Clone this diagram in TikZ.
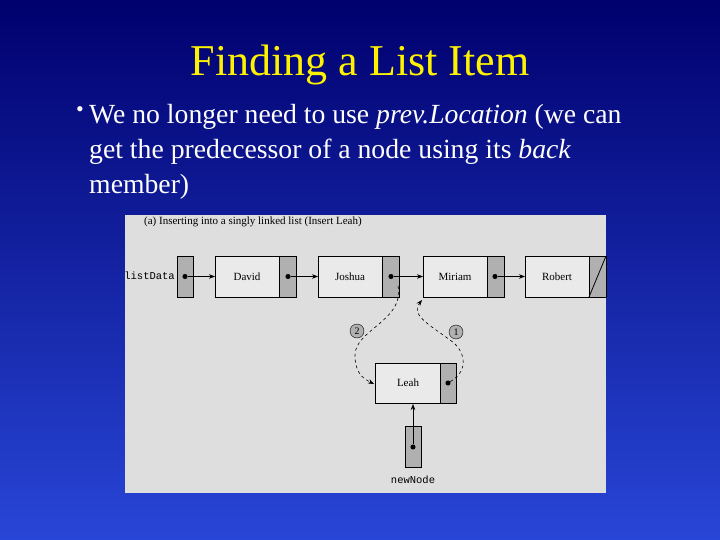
\documentclass[tikz,border=0pt]{standalone}
\usepackage{fontspec}
\setmainfont{Liberation Serif}
\setmonofont{Liberation Mono}
\usetikzlibrary{arrows.meta}
\definecolor{panel}{HTML}{DEDEDE}
\definecolor{ptrgray}{HTML}{B0B0B0}
\definecolor{cellgray}{HTML}{EAEAEA}
\tikzset{cell/.style = {draw, fill=cellgray, thick},
         ptr/.style = {draw, fill=ptrgray, thick},
         lnk/.style = {-{Stealth[length=6pt]}, semithick},
         dot/.style = {circle, fill, inner sep=1.8pt},
         step1/.style = {circle, draw, fill=ptrgray, minimum size=14pt, inner sep=0pt, font=\fontsize{10}{10}\selectfont}
        }
\begin{document}
\begin{tikzpicture}[x=1pt,y=-1pt]
  \shade[top color={rgb,255:red,0;green,0;blue,110}, bottom color={rgb,255:red,40;green,70;blue,215}] (0,0) rectangle (720,540);
  \useasboundingbox (0,0) rectangle (720,540);
  % title and bullet
  \node[text=yellow, font=\fontsize{44}{44}\selectfont] (title) at (360,65) {Finding a List Item};
  \node[text=white, font=\fontsize{22}{22}\selectfont] (bul) at (80,112) {\textbullet};
  \node[text=white, anchor=north west, inner sep=0pt, align=left, font=\fontsize{27.7}{35}\selectfont] (txt) at (89,104)
    {We no longer need to use \textit{prev.Location} (we can\\get the predecessor of a node using its \textit{back}\\member)};
  % panel
  \fill[panel] (125,215) rectangle (606,493);
  \node[anchor=west, font=\fontsize{11}{11}\selectfont, inner sep=0pt] (cap) at (144,222) {(a) Inserting into a singly linked list (Insert Leah)};
  % list
  \node[anchor=east, font=\ttfamily\fontsize{10.5}{10.5}\selectfont, inner sep=1pt] (head) at (176,276) {listData};
  \draw[ptr] (177,256) rectangle (193,297);
  \foreach \n/\x/\name in {david/215/David, joshua/318/Joshua, miriam/423/Miriam, robert/525/Robert} {
    \draw[cell] (\x,256) rectangle ++(64,41);
    \draw[ptr] (\x+64,256) rectangle ++(17,41);
    \node[font=\fontsize{11}{11}\selectfont] (\n) at (\x+32,276.5) {\name};
    \coordinate (\n L) at (\x,276.5);
  }
  \draw[thick] (589,297) -- (606,256);
  \node[dot] (d0) at (185,276.5) {};
  \node[dot] (d1) at (288,276.5) {};
  \node[dot] (d2) at (391,276.5) {};
  \node[dot] (d3) at (495,276.5) {};
  \draw[lnk] (d0) -- (davidL);
  \draw[lnk] (d1) -- (joshuaL);
  \draw[lnk] (d2) -- (miriamL);
  \draw[lnk] (d3) -- (robertL);
  % new node
  \draw[cell] (375,363) rectangle (440,403);
  \draw[ptr] (440,363) rectangle (456,403);
  \node[font=\fontsize{11}{11}\selectfont] (leah) at (408,383) {Leah};
  \node[dot] (d4) at (448,383) {};
  \draw[ptr] (405,426) rectangle (421,467);
  \node[dot] (d5) at (413,447) {};
  \node[font=\ttfamily\fontsize{10.5}{10.5}\selectfont] (nn) at (413,480) {newNode};
  \coordinate (leahB) at (413,404);
  \coordinate (leahL) at (374,384);
  \coordinate (miriamB) at (422,300);
  \coordinate (joshuaB) at (398,286);
  \draw[lnk] (d5) -- (leahB);
  % steps
  \draw[lnk, dashed] (joshuaB) .. controls (405,320) and (355,330) .. (355,355) .. controls (355,372) and (362,378) .. (leahL);
  \draw[lnk, dashed] (d4) .. controls (470,370) and (465,350) .. (450,340) .. controls (430,325) and (410,315) .. (miriamB);
  \node[step1] (s2) at (357,331) {2};
  \node[step1] (s1) at (456,332) {1};
\end{tikzpicture}
\end{document}
